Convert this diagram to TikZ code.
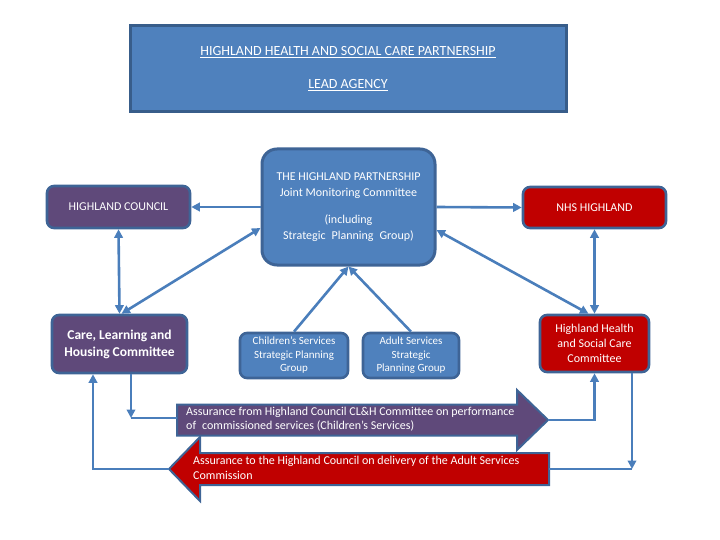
\documentclass[tikz,border=0pt]{standalone}
\usepackage{fontspec}
\setmainfont{Carlito}
\usetikzlibrary{arrows.meta}
\definecolor{paleblue}{HTML}{4F81BD}
\definecolor{edgeblue}{HTML}{3E6496}
\definecolor{leadedge}{HTML}{385D8A}
\definecolor{linkblue}{HTML}{4A7EBB}
\definecolor{councilpurple}{HTML}{5F497A}
\definecolor{nhsred}{HTML}{C00000}
\begin{document}
\begin{tikzpicture}[x=1pt, y=-1pt, >={Triangle[length=8.5pt, width=8.5pt]},
  box/.style={draw=edgeblue, line width=2.6pt, rounded corners=7pt, text=white, align=center, inner sep=0pt},
  link/.style={draw=linkblue, line width=2.6pt},
  bigarrow/.style={draw=edgeblue, line width=2pt}]
  \useasboundingbox (0,0) rectangle (720,540);
  % partnership and committees
  \node[box, fill=paleblue, draw=leadedge, rounded corners=0pt, line width=3pt, minimum width=436pt, minimum height=86pt, font=\fontsize{14}{16}\selectfont] (lead) at (348,69) {\underline{HIGHLAND HEALTH AND SOCIAL CARE PARTNERSHIP}\\[17pt]\underline{LEAD AGENCY}};
  \node[box, fill=paleblue, rounded corners=15pt, line width=3pt, minimum width=173pt, minimum height=116pt, font=\fontsize{12}{15.5}\selectfont] (jmc) at (348.5,207) {THE HIGHLAND PARTNERSHIP\\Joint Monitoring Committee\\[12pt](including\\Strategic\enspace Planning\enspace Group)};
  \node[box, fill=councilpurple, minimum width=143pt, minimum height=42pt, font=\fontsize{12}{14}\selectfont] (hc) at (118.5,207) {HIGHLAND COUNCIL};
  \node[box, fill=nhsred, minimum width=143pt, minimum height=41pt, font=\fontsize{12}{14}\selectfont] (nhs) at (594.5,207.5) {NHS HIGHLAND};
  \node[box, fill=councilpurple, minimum width=135pt, minimum height=58pt, font=\bfseries\fontsize{13.5}{17}\selectfont] (clh) at (119.5,344) {Care, Learning and\\Housing Committee};
  \node[box, fill=nhsred, minimum width=109pt, minimum height=57pt, font=\fontsize{12}{14.7}\selectfont] (hhsc) at (594.5,343.5) {Highland Health\\and Social Care\\Committee};
  \node[box, fill=paleblue, minimum width=108pt, minimum height=45pt, font=\fontsize{11}{13.5}\selectfont] (child) at (294,355.5) {Children’s Services\\Strategic Planning\\Group};
  \node[box, fill=paleblue, minimum width=96pt, minimum height=45pt, font=\fontsize{11}{13.5}\selectfont] (adult) at (411,355.5) {Adult Services\\Strategic\\Planning Group};
  % assurance arrows
  \draw[bigarrow, fill=councilpurple] (177,404.5) -- (517,404.5) -- (517,390) -- (548,420) -- (517,450) -- (517,435.5) -- (177,435.5) -- cycle;
  \draw[bigarrow, fill=nhsred] (549,453) -- (200,453) -- (200,437) -- (169,469) -- (200,501) -- (200,485) -- (549,485) -- cycle;
  \coordinate (fromtail) at (177,418);
  \coordinate (fromtip) at (548,420);
  \coordinate (totail) at (549,469);
  \coordinate (totip) at (169,469);
  \node[anchor=west, align=left, text=white, inner sep=0pt, font=\fontsize{12}{14}\selectfont] (fromtext) at (186,419) {Assurance from Highland Council CL\&H Committee on performance\\of\enspace commissioned services (Children’s Services)};
  \node[anchor=west, align=left, text=white, inner sep=0pt, font=\fontsize{12}{15}\selectfont] (totext) at (193,468) {Assurance to the Highland Council on delivery of the Adult Services\\Commission};
  % links
  \draw[link, ->] (jmc.west) -- (hc.east);
  \draw[link, ->] (jmc.east) -- (nhs.west);
  \draw[link, <->] (hc.south) -- (clh.north);
  \draw[link, <->] ([xshift=2pt]clh.north) -- ([yshift=-21pt]jmc.west);
  \draw[link, <->] (nhs.south) -- (hhsc.north);
  \draw[link, <->] ([xshift=-6pt]hhsc.north) -- ([yshift=-23pt]jmc.east);
  \draw[link, ->] (child.north) -- (jmc.south);
  \draw[link, ->] (adult.north) -- (jmc.south);
  \coordinate (clhright) at ([xshift=11.5pt]clh.south);
  \coordinate (clhleft) at ([xshift=-26.5pt]clh.south);
  \coordinate (hhscright) at ([xshift=37.5pt]hhsc.south);
  \draw[link, ->] (clhright) -- (clhright |- fromtail);
  \draw[link] (clhright |- fromtail) -- (fromtail);
  \draw[link, ->] (fromtip) -| (hhsc.south);
  \draw[link, ->] (hhscright) -- (hhscright |- totail);
  \draw[link] (hhscright |- totail) -- (totail);
  \draw[link, ->] (totip) -| (clhleft);
\end{tikzpicture}
\end{document}
